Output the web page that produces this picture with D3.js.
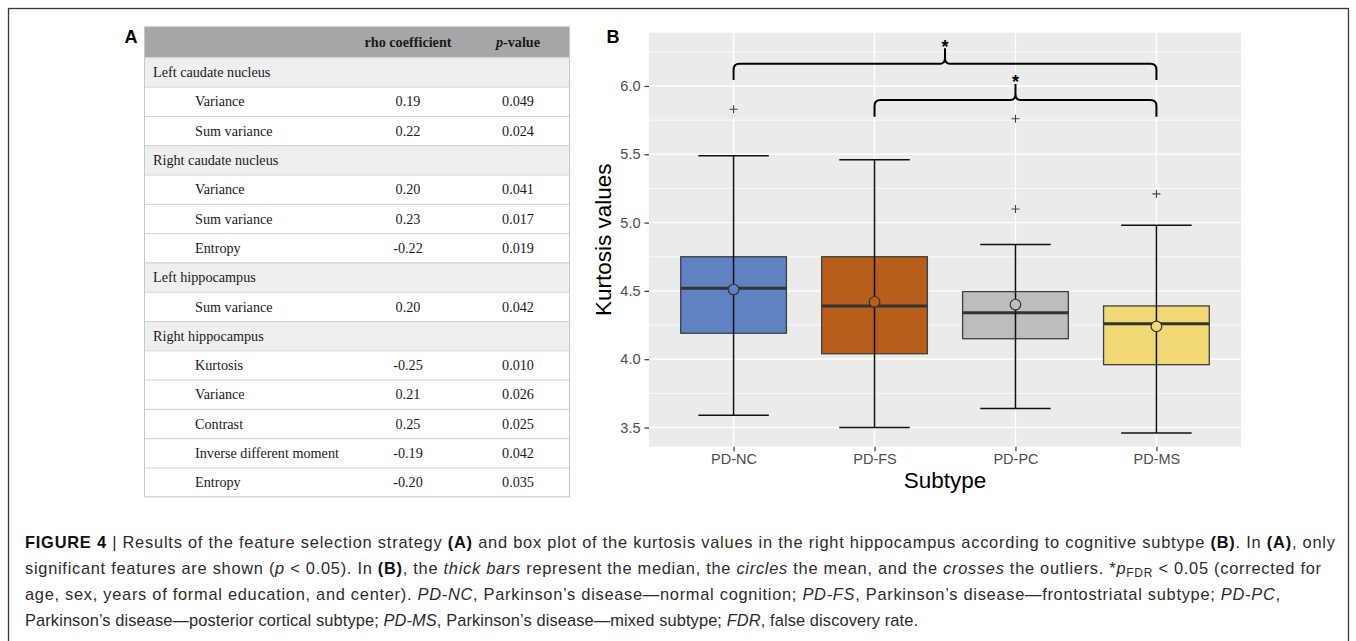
<!DOCTYPE html>
<html lang="en">
<head>
<meta charset="UTF-8">
<title>Figure 4</title>
<script src="https://cdn.jsdelivr.net/npm/d3@7"></script>
<style>
  body { margin: 0; background: #fff; }
  .tbl { font-family: 'Liberation Serif', 'Times New Roman', serif; font-size: 14.2px; fill: #1a1a1a; }
  .ax { font-family: 'Liberation Sans', Arial, Helvetica, sans-serif; }
  .cap { font-family: 'Liberation Sans', Arial, Helvetica, sans-serif; font-size: 16.4px; fill: #2b2b2b; }
</style>
</head>
<body>
<div id="fig"></div>
<script>
// ---- table (panel A) ----
const rowLabels = ["Left caudate nucleus", "Variance", "Sum variance", "Right caudate nucleus", "Variance", "Sum variance", "Entropy",
  "Left hippocampus", "Sum variance", "Right hippocampus", "Kurtosis", "Variance", "Contrast", "Inverse different moment", "Entropy"];
const rowIsRegion = [true, false, false, true, false, false, false, true, false, true, false, false, false, false, false];
const rowRho = ["", "0.19", "0.22", "", "0.20", "0.23", "-0.22", "", "0.20", "", "-0.25", "0.21", "0.25", "-0.19", "-0.20"];
const rowP = ["", "0.049", "0.024", "", "0.041", "0.017", "0.019", "", "0.042", "", "0.010", "0.026", "0.025", "0.042", "0.035"];

// ---- box plot (panel B) ----
const subtypes = ["PD-NC", "PD-FS", "PD-PC", "PD-MS"];
const q1 = [4.19, 4.04, 4.15, 3.96];
const medians = [4.52, 4.39, 4.34, 4.26];
const q3 = [4.75, 4.75, 4.495, 4.39];
const whiskerLow = [3.59, 3.50, 3.64, 3.46];
const whiskerHigh = [5.49, 5.46, 4.84, 4.98];
const means = [4.51, 4.42, 4.40, 4.24];
const outliers = [[5.83], [], [5.10, 5.76], [5.21]];
const boxColors = ["#5f82c2", "#b65e1a", "#bdbdbd", "#f1d874"];
const yTicks = [3.5, 4.0, 4.5, 5.0, 5.5, 6.0];
const yMinor = [3.75, 4.25, 4.75, 5.25, 5.75, 6.25];
// significance brackets: from, to, line level, end level, peak level
const bracketFrom = ["PD-NC", "PD-FS"];
const bracketTo = ["PD-MS", "PD-MS"];
const bracketLevel = [6.163, 5.898];
const bracketEnd = [6.044, 5.775];
const bracketPeak = [6.276, 6.015];

const W = 1356, H = 641;
const svg = d3.select("#fig").append("svg").attr("width", W).attr("height", H);

// outer frame
svg.append("rect").attr("x", 8.5).attr("y", 8.5).attr("width", 1340).attr("height", 660)
  .attr("fill", "none").attr("stroke", "#3a3a3a").attr("stroke-width", 1.3);

// ===== Panel A =====
const tX0 = 144.5, tX1 = 569.5, headTop = 26.7, headH = 30.6, rowH = 29.3;
const colRho = 408, colP = 518;
svg.append("text").attr("x", 131).attr("y", 43).attr("text-anchor", "middle")
  .attr("class", "ax").attr("font-size", 18).attr("font-weight", "bold").text("A");

const tg = svg.append("g").attr("class", "tbl");
tg.append("rect").attr("x", tX0).attr("y", headTop).attr("width", tX1 - tX0).attr("height", headH).attr("fill", "#a6a6a6");
tg.append("text").attr("x", colRho).attr("y", headTop + 20.5).attr("text-anchor", "middle").attr("font-weight", "bold").text("rho coefficient");
const pv = tg.append("text").attr("x", colP).attr("y", headTop + 20.5).attr("text-anchor", "middle").attr("font-weight", "bold");
pv.append("tspan").attr("font-style", "italic").text("p");
pv.append("tspan").text("-value");

const rowY = i => headTop + headH + i * rowH;
const rows = tg.selectAll("g.row").data(rowLabels).enter().append("g").attr("class", "row");
rows.append("rect").attr("x", tX0).attr("y", (d, i) => rowY(i)).attr("width", tX1 - tX0).attr("height", rowH)
  .attr("fill", (d, i) => rowIsRegion[i] ? "#efefef" : "#ffffff");
rows.append("line").attr("x1", tX0).attr("x2", tX1).attr("y1", (d, i) => rowY(i) + 0.5).attr("y2", (d, i) => rowY(i) + 0.5)
  .attr("stroke", "#cfcfcf");
rows.append("text").attr("x", (d, i) => rowIsRegion[i] ? 153 : 195).attr("y", (d, i) => rowY(i) + 19.8).text(d => d);
rows.append("text").attr("x", colRho).attr("y", (d, i) => rowY(i) + 19.8).attr("text-anchor", "middle").text((d, i) => rowRho[i]);
rows.append("text").attr("x", colP).attr("y", (d, i) => rowY(i) + 19.8).attr("text-anchor", "middle").text((d, i) => rowP[i]);
tg.append("rect").attr("x", tX0).attr("y", headTop).attr("width", tX1 - tX0).attr("height", headH + rowLabels.length * rowH)
  .attr("fill", "none").attr("stroke", "#c8c8c8");

// ===== Panel B =====
const pL = 649, pR = 1241, pT = 32.7, pB = 446.7;
const y = d3.scaleLinear().domain([3.3595, 6.39]).range([pB, pT]);
const x = d3.scalePoint().domain(subtypes).range([pL, pR]).padding(0.6);
const step = x.step();

svg.append("text").attr("x", 613).attr("y", 43).attr("text-anchor", "middle")
  .attr("class", "ax").attr("font-size", 18).attr("font-weight", "bold").text("B");

const pg = svg.append("g");
pg.append("rect").attr("x", pL).attr("y", pT).attr("width", pR - pL).attr("height", pB - pT).attr("fill", "#ebebeb");
pg.selectAll("line.minor").data(yMinor).enter().append("line")
  .attr("x1", pL).attr("x2", pR).attr("y1", d => y(d)).attr("y2", d => y(d))
  .attr("stroke", "#fff").attr("stroke-width", 0.7);
pg.selectAll("line.major").data(yTicks).enter().append("line")
  .attr("x1", pL).attr("x2", pR).attr("y1", d => y(d)).attr("y2", d => y(d))
  .attr("stroke", "#fff").attr("stroke-width", 1.4);
pg.selectAll("line.vmajor").data(subtypes).enter().append("line")
  .attr("x1", d => x(d)).attr("x2", d => x(d)).attr("y1", pT).attr("y2", pB)
  .attr("stroke", "#fff").attr("stroke-width", 1.4);

// axes
const yAxis = pg.append("g").attr("transform", `translate(${pL},0)`)
  .call(d3.axisLeft(y).tickValues(yTicks).tickFormat(d3.format(".1f")).tickSize(4.5).tickPadding(4));
const xAxis = pg.append("g").attr("transform", `translate(0,${pB})`)
  .call(d3.axisBottom(x).tickSize(4.5).tickPadding(3));
[yAxis, xAxis].forEach(a => {
  a.select(".domain").remove();
  a.selectAll(".tick line").attr("stroke", "#333").attr("stroke-width", 1.2);
  a.selectAll(".tick text").attr("class", "ax").attr("font-size", 14.5).attr("fill", "#4d4d4d");
});

svg.append("text").attr("class", "ax").attr("x", 945).attr("y", 488).attr("text-anchor", "middle")
  .attr("font-size", 22.5).attr("fill", "#000").text("Subtype");
svg.append("text").attr("class", "ax").attr("transform", `translate(611,${(pT + pB) / 2}) rotate(-90)`)
  .attr("text-anchor", "middle").attr("font-size", 22.5).attr("fill", "#000").text("Kurtosis values");

// boxes
const bw = step * 0.75, cw = step * 0.5;
const bg = pg.selectAll("g.box").data(subtypes).enter().append("g");
bg.append("rect").attr("x", d => x(d) - bw / 2).attr("width", bw)
  .attr("y", (d, i) => y(q3[i])).attr("height", (d, i) => y(q1[i]) - y(q3[i]))
  .attr("fill", (d, i) => boxColors[i]).attr("stroke", "#3f3f3f").attr("stroke-width", 1.3);
bg.append("line").attr("x1", d => x(d) - bw / 2).attr("x2", d => x(d) + bw / 2)
  .attr("y1", (d, i) => y(medians[i])).attr("y2", (d, i) => y(medians[i]))
  .attr("stroke", "#333").attr("stroke-width", 3);
bg.append("line").attr("x1", d => x(d)).attr("x2", d => x(d))
  .attr("y1", (d, i) => y(whiskerLow[i])).attr("y2", (d, i) => y(whiskerHigh[i]))
  .attr("stroke", "#111").attr("stroke-width", 1.5);
bg.append("line").attr("x1", d => x(d) - cw / 2).attr("x2", d => x(d) + cw / 2)
  .attr("y1", (d, i) => y(whiskerLow[i])).attr("y2", (d, i) => y(whiskerLow[i]))
  .attr("stroke", "#111").attr("stroke-width", 1.5);
bg.append("line").attr("x1", d => x(d) - cw / 2).attr("x2", d => x(d) + cw / 2)
  .attr("y1", (d, i) => y(whiskerHigh[i])).attr("y2", (d, i) => y(whiskerHigh[i]))
  .attr("stroke", "#111").attr("stroke-width", 1.5);
bg.append("circle").attr("cx", d => x(d)).attr("cy", (d, i) => y(means[i])).attr("r", 5.3)
  .attr("fill", (d, i) => boxColors[i]).attr("stroke", "#333").attr("stroke-width", 1.2);

// outliers (crosses)
subtypes.forEach((s, i) => {
  outliers[i].forEach(v => {
    const cx = x(s), cy = y(v), r = 4;
    pg.append("path").attr("d", `M${cx - r},${cy}H${cx + r}M${cx},${cy - r}V${cy + r}`)
      .attr("stroke", "#444").attr("stroke-width", 1.1).attr("fill", "none");
  });
});

// significance braces
bracketFrom.forEach((f, i) => {
  const x1 = x(f), x2 = x(bracketTo[i]), xc = (x1 + x2) / 2;
  const yh = y(bracketLevel[i]), ye = y(bracketEnd[i]), yp = y(bracketPeak[i]);
  const r = 6;
  const d = `M${x1},${ye}V${yh + r}Q${x1},${yh} ${x1 + r},${yh}H${xc - 5}Q${xc},${yh} ${xc},${yh - 6}V${yp}` +
    `M${x2},${ye}V${yh + r}Q${x2},${yh} ${x2 - r},${yh}H${xc + 5}Q${xc},${yh} ${xc},${yh - 6}V${yp}`;
  svg.append("path").attr("d", d).attr("fill", "none").attr("stroke", "#000").attr("stroke-width", 2);
  svg.append("text").attr("class", "ax").attr("x", xc).attr("y", yp + 4.5).attr("text-anchor", "middle")
    .attr("font-size", 18).attr("font-weight", "bold").text("*");
});

// ===== caption =====
const capLines = [
  [["FIGURE 4", "b"], [" | Results of the feature selection strategy ", ""], ["(A)", "b"], [" and box plot of the kurtosis values in the right hippocampus according to cognitive subtype ", ""], ["(B)", "b"], [". In ", ""], ["(A)", "b"], [", only", ""]],
  [["significant features are shown (", ""], ["p", "i"], [" < 0.05). In ", ""], ["(B)", "b"], [", the ", ""], ["thick bars", "i"], [" represent the median, the ", ""], ["circles", "i"], [" the mean, and the ", ""], ["crosses", "i"], [" the outliers. *", ""], ["p", "i"], ["FDR", "sub"], [" < 0.05 (corrected for", "up"]],
  [["age, sex, years of formal education, and center). ", ""], ["PD-NC", "i"], [", Parkinson\u2019s disease\u2014normal cognition; ", ""], ["PD-FS", "i"], [", Parkinson\u2019s disease\u2014frontostriatal subtype; ", ""], ["PD-PC", "i"], [",", ""]],
  [["Parkinson\u2019s disease\u2014posterior cortical subtype; ", ""], ["PD-MS", "i"], [", Parkinson\u2019s disease\u2014mixed subtype; ", ""], ["FDR", "i"], [", false discovery rate.", ""]]
];
const capWidths = [1310, 1296, 1255, 893];
capLines.forEach((parts, li) => {
  const t = svg.append("text").attr("class", "cap").attr("x", 25).attr("y", 548 + li * 26)
    .attr("textLength", capWidths[li]).attr("lengthAdjust", "spacing");
  parts.forEach(([s, st]) => {
    const ts = t.append("tspan").text(s);
    if (st === "b") ts.attr("font-weight", "bold").attr("fill", "#111");
    if (st === "i") ts.attr("font-style", "italic");
    if (st === "sub") ts.attr("font-size", 12).attr("dy", 3);
    if (st === "up") ts.attr("dy", -3);
  });
});
</script>
</body>
</html>
